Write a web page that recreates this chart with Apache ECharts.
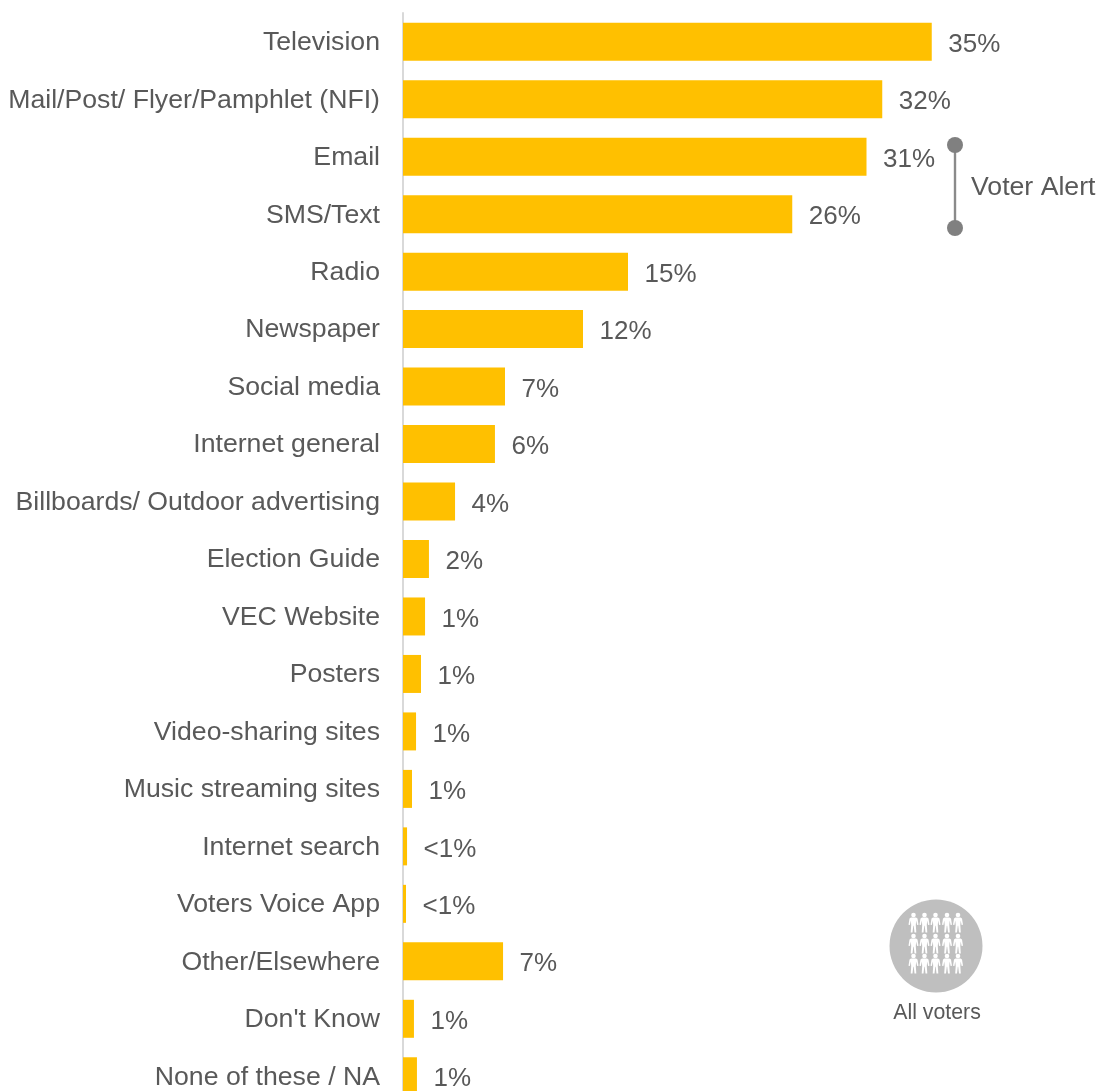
<!DOCTYPE html>
<html><head><meta charset="utf-8">
<style>html,body{margin:0;padding:0;background:#fff;overflow:hidden}#c{width:1105px;height:1091px}</style>
<script src="https://cdn.jsdelivr.net/npm/echarts@6/dist/echarts.min.js"></script>
</head><body><div id="c"></div>
<script>
const categories = ["Television","Mail/Post/ Flyer/Pamphlet (NFI)","Email","SMS/Text","Radio","Newspaper","Social media","Internet general","Billboards/ Outdoor advertising","Election Guide","VEC Website","Posters","Video-sharing sites","Music streaming sites","Internet search","Voters Voice App","Other/Elsewhere","Don't Know","None of these / NA"];
const values = [35.25,31.95,30.9,25.95,15,12,6.8,6.13,3.47,1.73,1.47,1.2,0.87,0.6,0.27,0.2,6.67,0.73,0.93];
const valueLabels = ["35%","32%","31%","26%","15%","12%","7%","6%","4%","2%","1%","1%","1%","1%","<1%","<1%","7%","1%","1%"];
const FONT = "'Liberation Sans', Arial, sans-serif";
const TEXT = "#595959";
const personBody = [[2.5,4.4],[7.5,4.4],[9,5.4],[10,11.8],[8.6,12],[7.7,7.6],[7.3,12],[7.8,19.5],[6,19.5],[5.2,12.7],[4.8,12.7],[4,19.5],[2.2,19.5],[2.7,12],[2.3,7.6],[1.4,12],[0,11.8],[1,5.4]];
const peopleX = [908.5,919.5,930.5,942,953];
const peopleY = [913,934,954];
const people = [];
peopleY.forEach(y => peopleX.forEach(x => {
  people.push({type:'circle', shape:{cx:5,cy:2,r:2.3}, x:x, y:y, style:{fill:'#fff'}});
  people.push({type:'polygon', shape:{points:personBody}, x:x, y:y, style:{fill:'#fff'}});
}));
const chart = echarts.init(document.getElementById('c'), null, {renderer:'canvas'});
chart.setOption({
  animation:false,
  grid:{left:403, top:13, width:600, height:1092, outerBoundsMode:'none', containLabel:false},
  xAxis:{type:'value', min:0, max:40, show:false},
  yAxis:{type:'category', data:categories, inverse:true,
    axisLine:{show:true, lineStyle:{color:'#D9D9D9', width:2}},
    axisTick:{show:false},
    axisLabel:{color:TEXT, fontFamily:FONT, fontSize:26.67, margin:23, align:'right',
      formatter:v=>'{a|'+v+'}',
      rich:{a:{color:TEXT, fontFamily:FONT, fontSize:26.67, padding:[2,0,0,0]}}}
  },
  series:[{type:'bar', data:values, barWidth:38, itemStyle:{color:'#FFC000'},
    label:{show:true, position:'right', distance:16.5, offset:[0,3], color:TEXT, fontFamily:FONT, fontSize:26,
      formatter:p=>valueLabels[p.dataIndex]}
  }],
  graphic:[
    {type:'line', shape:{x1:955,y1:145,x2:955,y2:228}, style:{stroke:'#8A8A8A', lineWidth:2.4}},
    {type:'circle', shape:{cx:955,cy:145,r:8}, style:{fill:'#808080'}},
    {type:'circle', shape:{cx:955,cy:228,r:8}, style:{fill:'#808080'}},
    {type:'text', style:{x:971,y:188,text:'Voter Alert',fill:TEXT,font:"26.67px "+FONT,textAlign:'left',textVerticalAlign:'middle'}},
    {type:'circle', shape:{cx:936,cy:946,r:46.5}, style:{fill:'#BFBFBF'}},
    ...people,
    {type:'text', style:{x:937,y:1013,text:'All voters',fill:TEXT,font:"21.3px "+FONT,textAlign:'center',textVerticalAlign:'middle'}}
  ]
});
</script></body></html>
